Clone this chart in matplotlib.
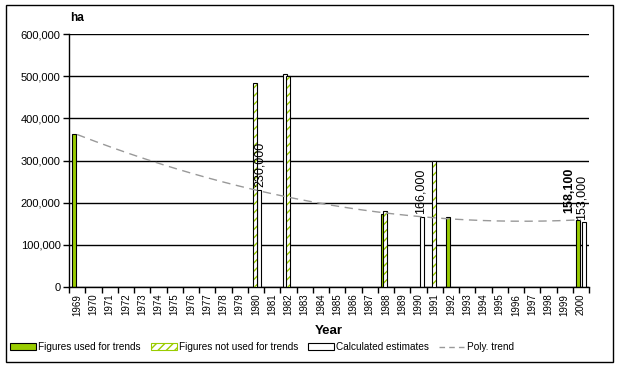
import numpy as np
import matplotlib
matplotlib.use('Agg')
import matplotlib.pyplot as plt
from matplotlib.patches import Patch, Rectangle
from matplotlib.lines import Line2D

plt.rcParams['font.family'] = ['Liberation Sans', 'DejaVu Sans']
plt.rcParams['hatch.linewidth'] = 1.0

# datos
years = list(range(1969, 2001))

used_years = [1969, 1988, 1992, 2000]
used_vals = [362000, 172000, 165000, 158100]

notused_years = [1980, 1982, 1988, 1991]
notused_vals = [485000, 500000, 181000, 298000]

est_years = [1980, 1990, 2000]
est_vals = [230000, 166000, 153000]

# barra blanca detras de 1982
extra_years = [1982]
extra_vals = [505000]

label_years = [1980, 1990, 2000]
label_texts = ['230,000', '166,000', '153,000']

verde = '#99cc00'
w = 0.25
pos = lambda ys: np.array([years.index(y) for y in ys], dtype=float)

fig = plt.figure(figsize=(6.18, 3.67), dpi=100)
ax = fig.add_axes([69/618, 80.3/367, 520/618, 252.4/367])

ax.bar(pos(extra_years) - 0.2, extra_vals, width=w, color='white', edgecolor='black', linewidth=0.8, zorder=2)
ax.bar(pos(used_years) - 0.2, used_vals, width=w, color=verde, edgecolor='black', linewidth=0.8, zorder=2)
ax.bar(pos(est_years) + 0.2, est_vals, width=w, color='white', edgecolor='black', linewidth=0.8, zorder=2)
# rayado verde + contorno negro
ax.bar(pos(notused_years) - 0.05, notused_vals, width=w, color='white', edgecolor=verde, hatch='////', linewidth=0, zorder=3)
ax.bar(pos(notused_years) - 0.05, notused_vals, width=w, fill=False, edgecolor='black', linewidth=0.8, zorder=3)

# tendencia polinomica (orden 2) sobre los valores usados
coef = np.polyfit(pos(used_years), used_vals, 2)
xt = np.linspace(0, len(years) - 1, 200)
ax.plot(xt, np.polyval(coef, xt), color='#999999', linestyle=(0, (6, 4)), linewidth=1, zorder=4)

# etiquetas
dx = [0.25, 0.15, 0.05]
for y, t, d in zip(label_years, label_texts, dx):
    v = est_vals[est_years.index(y)]
    ax.annotate(t, (years.index(y) + d, v), xytext=(0, 2), textcoords='offset points',
                rotation=90, ha='center', va='bottom', fontsize=9)
ax.annotate('158,100', (years.index(2000) - 0.72, used_vals[-1]), xytext=(0, 5), textcoords='offset points',
            rotation=90, ha='center', va='bottom', fontsize=9, fontweight='bold')

ax.set_xlim(-0.5, len(years) - 0.5)
ax.set_ylim(0, 600000)
ax.set_yticks(range(0, 600001, 100000))
ax.set_yticklabels([f'{v:,}' for v in range(0, 600001, 100000)], fontsize=8)
ax.grid(axis='y', color='black', linewidth=1, zorder=0)
ax.set_axisbelow(True)

ax.set_xticks(range(len(years)))
ax.set_xticklabels([str(y) for y in years], rotation=90, fontsize=7)
ax.set_xticks(np.arange(-0.5, len(years)), minor=True)
ax.tick_params(axis='x', which='major', length=0, pad=5)
ax.tick_params(axis='x', which='minor', length=4, width=1, color='black')
ax.tick_params(axis='y', length=4, width=1, pad=2)

for s in ['top', 'right']:
    ax.spines[s].set_visible(False)
for s in ['left', 'bottom']:
    ax.spines[s].set_linewidth(1)

ax.set_xlabel('Year', fontsize=9.5, fontweight='bold', labelpad=7)
fig.text(70/618, 1 - 18/367, 'ha', fontsize=8.5, fontweight='bold', ha='left', va='center')

handles = [
    Patch(facecolor=verde, edgecolor='black', linewidth=0.8),
    Patch(facecolor='white', edgecolor=verde, hatch='////', linewidth=0.8),
    Patch(facecolor='white', edgecolor='black', linewidth=0.8),
    Line2D([0], [0], color='#999999', linestyle=(0, (4, 3)), linewidth=1),
]
labels = ['Figures used for trends', 'Figures not used for trends', 'Calculated estimates', 'Poly. trend']
fig.legend(handles, labels, loc='center', bbox_to_anchor=(262/618, 1 - 347/367), ncol=4,
           frameon=False, fontsize=7.2, handlelength=2.6, handleheight=0.6, handletextpad=0.2,
           columnspacing=1.0, borderpad=0)

# marco exterior
fig.patches.append(Rectangle((6/618, 5.3/367), 606.7/618, 356.7/367, transform=fig.transFigure,
                             fill=False, edgecolor='black', linewidth=1))

fig.savefig('out.png', dpi=100)
